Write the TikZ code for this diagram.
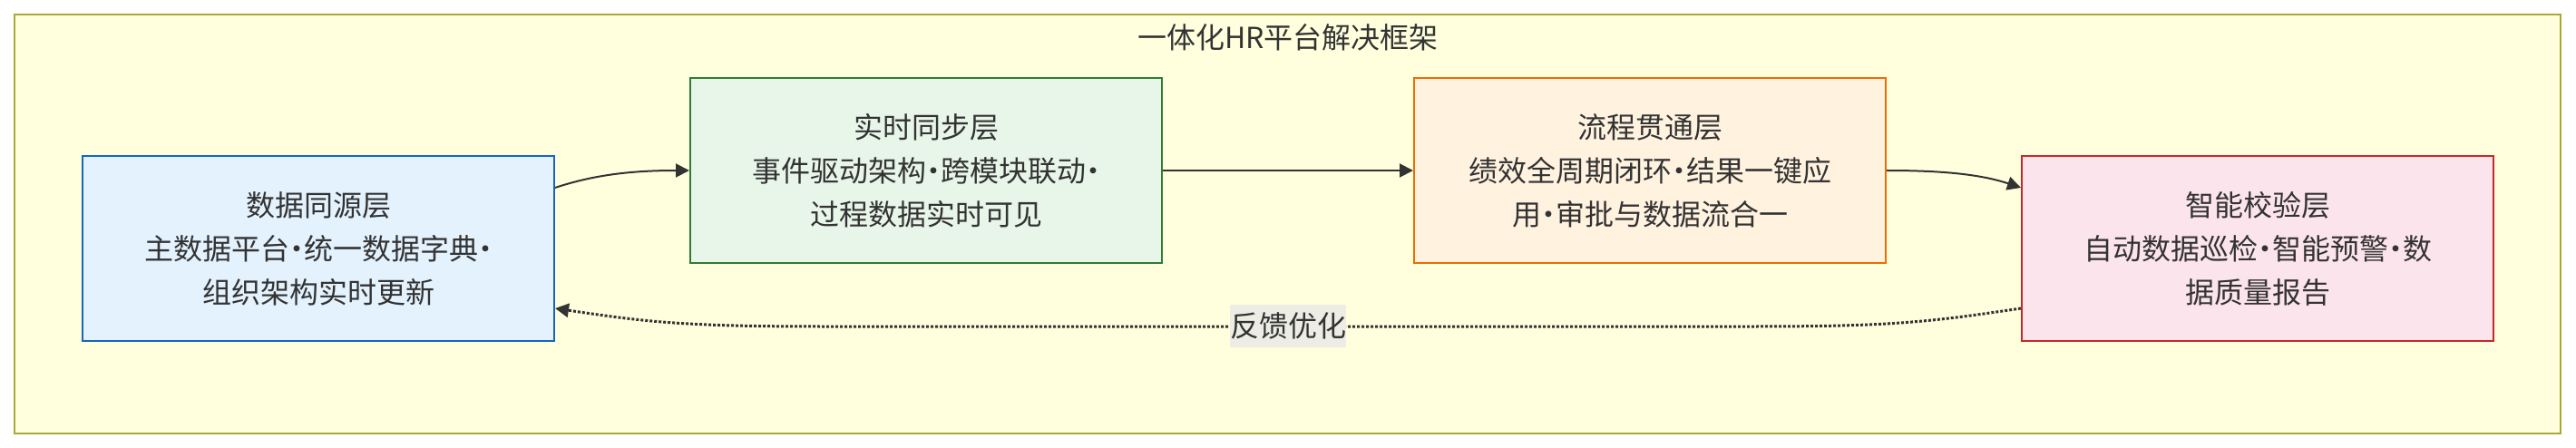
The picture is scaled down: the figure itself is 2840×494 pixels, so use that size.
\documentclass[tikz,border=0pt]{standalone}
\usepackage{fontspec}
\setmainfont{Noto Sans CJK SC}
\usetikzlibrary{arrows.meta}
\definecolor{txt}{HTML}{333333}
\definecolor{frfill}{HTML}{FFFFDE}
\definecolor{frdraw}{HTML}{AAAA33}
\definecolor{bAf}{HTML}{E3F2FD}\definecolor{bAd}{HTML}{1565C0}
\definecolor{bBf}{HTML}{E8F5E9}\definecolor{bBd}{HTML}{2E7D32}
\definecolor{bCf}{HTML}{FFF3E0}\definecolor{bCd}{HTML}{EF6C00}
\definecolor{bDf}{HTML}{FCE4EC}\definecolor{bDd}{HTML}{C62828}
\definecolor{lblbg}{HTML}{EDEDE6}
\newcommand{\mdot}{\makebox[16pt][c]{·}}
\begin{document}
\begin{tikzpicture}[x=1pt,y=-1pt,
  font=\fontsize{32}{48}\selectfont,
  frame/.style={draw=frdraw, fill=frfill, line width=2pt, minimum width=2807pt, minimum height=462pt, inner sep=0pt},
  layer/.style={line width=2pt, minimum width=520pt, minimum height=204pt, inner sep=0pt, align=center, text=txt},
  ttl/.style={text=txt, inner sep=0pt},
  arr/.style={draw=txt, line width=2pt, -{Triangle[length=15pt,width=15pt]}},
  fb/.style={draw=txt, line width=3pt, dash pattern=on 3pt off 2pt, -{Triangle[length=15pt,width=15pt]}},
  lbl/.style={fill=lblbg, text=txt, minimum width=128pt, minimum height=47pt, inner sep=0pt}
]
\useasboundingbox (0,0) rectangle (2840,494);
\node[frame] (fr) at (1419.5,247) {};
\node[ttl] (t) at (1420,41.5) {一体化HR平台解决框架};
\node[layer, fill=bAf, draw=bAd] (b1) at (351,274) {数据同源层\\主数据平台\mdot 统一数据字典\mdot\\组织架构实时更新};
\node[layer, fill=bBf, draw=bBd] (b2) at (1021,188) {实时同步层\\事件驱动架构\mdot 跨模块联动\mdot\\过程数据实时可见};
\node[layer, fill=bCf, draw=bCd] (b3) at (1819,188) {流程贯通层\\绩效全周期闭环\mdot 结果一键应\\用\mdot 审批与数据流合一};
\node[layer, fill=bDf, draw=bDd] (b4) at (2489,274) {智能校验层\\自动数据巡检\mdot 智能预警\mdot 数\\据质量报告};
\draw[arr] ([yshift=67pt]b1.east) .. controls +(45,-15) and +(-60,0) .. (b2.west);
\draw[arr] (b2.east) -- (b3.west);
\draw[arr] (b3.east) .. controls +(60,0) and +(-45,-15) .. ([yshift=67pt]b4.west);
\coordinate (fr1) at (1935,360);
\coordinate (fl1) at (905,360);
\draw[fb] ([yshift=-66pt]b4.west) .. controls +(-100,15) and +(150,0) .. (fr1) -- (fl1) .. controls +(-150,0) and +(100,15) .. ([yshift=-66pt]b1.east);
\node[lbl] (l) at (1420,359.5) {反馈优化};
\end{tikzpicture}
\end{document}
